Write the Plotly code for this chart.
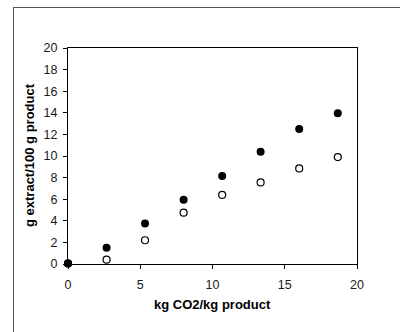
import plotly.graph_objects as go

x_vals = [0, 2.67, 5.33, 8.0, 10.67, 13.33, 16.0, 18.67]
filled_y = [0.05, 1.5, 3.75, 5.95, 8.15, 10.4, 12.5, 13.95]
open_y = [0.05, 0.4, 2.2, 4.75, 6.4, 7.55, 8.85, 9.9]
x_ticks = [0, 5, 10, 15, 20]
y_ticks = [0, 2, 4, 6, 8, 10, 12, 14, 16, 18, 20]

W, H = 400, 332
PL, PR, PT, PB = 68, 357, 48, 264  # plot area pixels
pw, ph = PR - PL, PB - PT


def px(x):
    return (x - PL) / pw


def py(y):
    return (PB - y) / ph


fig = go.Figure()
fig.add_trace(go.Scatter(x=x_vals, y=open_y, mode="markers",
                         marker=dict(symbol="circle-open", size=7, color="black",
                                     line=dict(width=1.2, color="black")),
                         cliponaxis=False, showlegend=False))
fig.add_trace(go.Scatter(x=x_vals, y=filled_y, mode="markers",
                         marker=dict(symbol="circle", size=8, color="black"),
                         cliponaxis=False, showlegend=False))

tick_font = dict(family="Liberation Sans, Arial, sans-serif", size=12.5, color="#1a1a1a")
title_font = dict(family="Liberation Sans, Arial, sans-serif", size=13, color="black")
fig.update_layout(
    width=W, height=H,
    margin=dict(l=PL, r=W - PR, t=PT, b=H - PB),
    paper_bgcolor="white", plot_bgcolor="white",
    font=tick_font,
    xaxis=dict(range=[0, 20], tickvals=x_ticks, showgrid=False, zeroline=False,
               showline=True, linecolor="black", linewidth=1, mirror=True,
               ticks="outside", ticklen=4, tickcolor="black", tickfont=tick_font,
               ticklabelstandoff=5, automargin=False),
    yaxis=dict(range=[0, 20], tickvals=y_ticks, showgrid=False, zeroline=False,
               showline=True, linecolor="black", linewidth=1, mirror=True,
               ticks="outside", ticklen=4, tickcolor="black", tickfont=tick_font,
               ticklabelstandoff=3, automargin=False),
    annotations=[
        # outer frame (open on right and bottom, as in the reference crop)
        dict(text=" ", xref="paper", yref="paper",
             x=px(13), y=py(7), xanchor="left", yanchor="top",
             width=460, height=400, bordercolor="#555", borderwidth=1,
             borderpad=0, showarrow=False),
        dict(text="<b>kg CO2/kg product</b>", xref="paper", yref="paper",
             x=0.5, y=py(304), xanchor="center", yanchor="middle",
             showarrow=False, font=title_font),
        dict(text="<b>g extract/100 g product</b>", xref="paper", yref="paper",
             x=px(29), y=py(155), xanchor="center", yanchor="middle",
             textangle=-90, showarrow=False, font=title_font),
    ],
)
fig.write_html("out.html", config={"displayModeBar": False},
               post_script="document.body.style.margin='0';")
